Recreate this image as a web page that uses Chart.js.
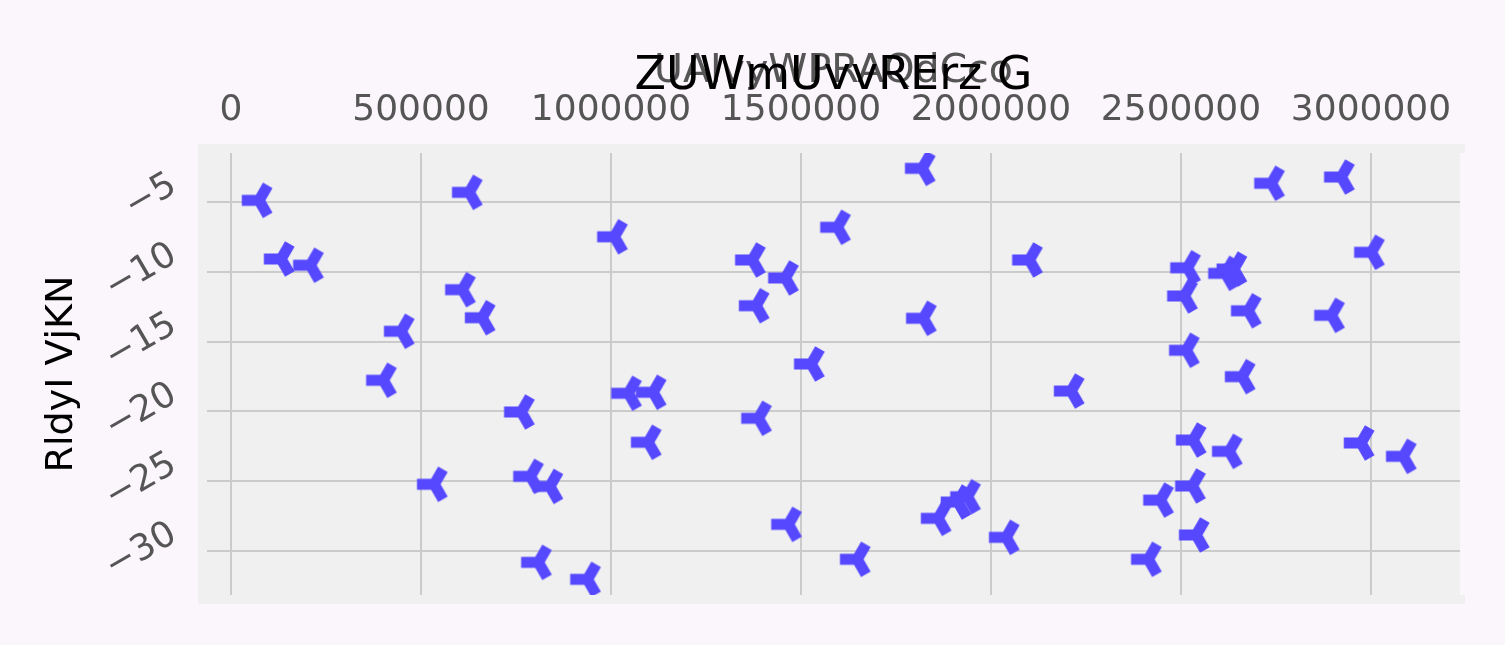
<!DOCTYPE html>
<html>
<head>
<meta charset="utf-8">
<script src="https://cdn.jsdelivr.net/npm/chart.js@4"></script>
<style>
html, body { margin: 0; padding: 0; background: #fbf5fc; }
#wrap { width: 1505px; height: 645px; }
</style>
</head>
<body>
<div id="wrap"><canvas id="chart" width="1505" height="645"></canvas></div>
<script>
// valores
const xValues = [
    74000, 132000, 209000, 627000, 1009000, 609000, 661000, 448000, 401000,
    1819000, 1596000, 1372000, 1459000, 1382000, 2101000, 1822000, 1527000,
    2738000, 2922000, 3001000, 2517000, 2617000, 2639000, 2509000, 2677000,
    2896000, 2514000, 764000, 1046000, 1098000, 535000, 788000, 839000,
    809000, 938000, 1111000, 1388000, 1467000, 1648000, 1861000, 1938000,
    1913000, 2040000, 2211000, 2661000, 2532000, 2627000, 2974000, 3085000,
    2530000, 2446000, 2540000, 2414000
];
const yValues = [
    -4.88, -9.08, -9.53, -4.31, -7.49, -11.28, -13.29, -14.26, -17.77,
    -2.59, -6.81, -9.15, -10.44, -12.43, -9.15, -13.33, -16.60,
    -3.66, -3.21, -8.60, -9.71, -10.11, -9.80, -11.73, -12.79,
    -13.12, -15.62, -20.04, -18.70, -22.21, -25.22, -24.65, -25.37,
    -30.81, -32.03, -18.63, -20.49, -28.09, -30.59, -27.66, -26.11,
    -26.49, -29.02, -18.54, -17.51, -22.05, -22.86, -22.26, -23.22,
    -25.34, -26.35, -28.85, -30.59
];
const xTicks = [0, 500000, 1000000, 1500000, 2000000, 2500000, 3000000];
const yTicks = [-30, -25, -20, -15, -10, -5];

const FONT = 'DejaVu Sans';

// marcador em forma de "tri" apontando para a esquerda
function triLeft(color) {
    const c = document.createElement('canvas');
    c.width = 44;
    c.height = 44;
    const g = c.getContext('2d');
    const L = 17.3, cx = 22, cy = 22;
    g.strokeStyle = color;
    g.lineWidth = 11;
    g.lineCap = 'butt';
    g.beginPath();
    g.moveTo(cx, cy); g.lineTo(cx - L, cy);
    g.moveTo(cx, cy); g.lineTo(cx + L / 2, cy - L * 0.866);
    g.moveTo(cx, cy); g.lineTo(cx + L / 2, cy + L * 0.866);
    g.stroke();
    return c;
}

// fundo da figura e da área do gráfico
const plotBg = {
    id: 'plotBg',
    beforeDraw(chart) {
        const { ctx, chartArea: a } = chart;
        ctx.save();
        ctx.fillStyle = '#fbf5fc';
        ctx.fillRect(0, 0, chart.width, chart.height);
        ctx.fillStyle = '#f0f0f0';
        ctx.fillRect(a.left - 9, a.top - 9, a.right - a.left + 9, a.bottom - a.top + 18);
        ctx.fillRect(a.right, a.top - 9, 5, 9);
        ctx.fillRect(a.right, a.bottom, 5, 9);
        ctx.restore();
    }
};

const points = xValues.map((x, i) => ({ x: x, y: yValues[i] }));

const ctx = document.getElementById('chart').getContext('2d');
new Chart(ctx, {
    type: 'scatter',
    data: {
        datasets: [{
            data: points,
            pointStyle: triLeft('#5548ff'),
            pointRadius: 10,
            pointHoverRadius: 10
        }]
    },
    options: {
        responsive: false,
        animation: false,
        devicePixelRatio: 1,
        layout: { padding: { left: 0, right: 45, top: 0, bottom: 50 } },
        plugins: {
            legend: { display: false },
            tooltip: { enabled: false },
            title: {
                display: true,
                text: 'ZUWmUvvRErz G',
                color: '#000',
                fullSize: false,
                font: { family: FONT, size: 46, weight: 'normal' },
                padding: { top: 49.4, bottom: -62.2 }
            }
        },
        scales: {
            x: {
                type: 'linear',
                position: 'top',
                min: -63158,
                max: 3234211,
                afterBuildTicks: s => { s.ticks = xTicks.map(v => ({ value: v })); },
                afterFit: s => { s.height = 110.6; },
                grid: { color: '#cbcbcb', lineWidth: 2, drawTicks: false },
                border: { display: false },
                ticks: {
                    color: '#555555',
                    font: { family: FONT, size: 36 },
                    padding: 21,
                    maxRotation: 0,
                    callback: v => String(v)
                },
                title: {
                    display: true,
                    text: 'UAIvyWPRAQdCco',
                    color: '#555555',
                    font: { family: FONT, size: 39.5 },
                    padding: { top: 5.9, bottom: 0 }
                }
            },
            y: {
                type: 'linear',
                min: -33.15,
                max: -1.49,
                afterBuildTicks: s => { s.ticks = yTicks.map(v => ({ value: v })); },
                afterFit: s => {
                    s.width = 207;
                    s.paddingTop = 0;
                    s.paddingBottom = 0;
                },
                grid: { color: '#cbcbcb', lineWidth: 2, drawTicks: false },
                border: { display: false },
                ticks: {
                    color: '#555555',
                    font: { family: FONT, size: 36 },
                    padding: 33,
                    minRotation: 30,
                    maxRotation: 30,
                    labelOffset: -19,
                    callback: v => String(v).replace('-', '\u2212')
                },
                title: {
                    display: true,
                    text: 'RldyI VjKN',
                    color: '#000',
                    font: { family: FONT, size: 38 },
                    padding: { top: 39.2, bottom: 0 }
                }
            }
        }
    },
    plugins: [plotBg]
});
</script>
</body>
</html>
